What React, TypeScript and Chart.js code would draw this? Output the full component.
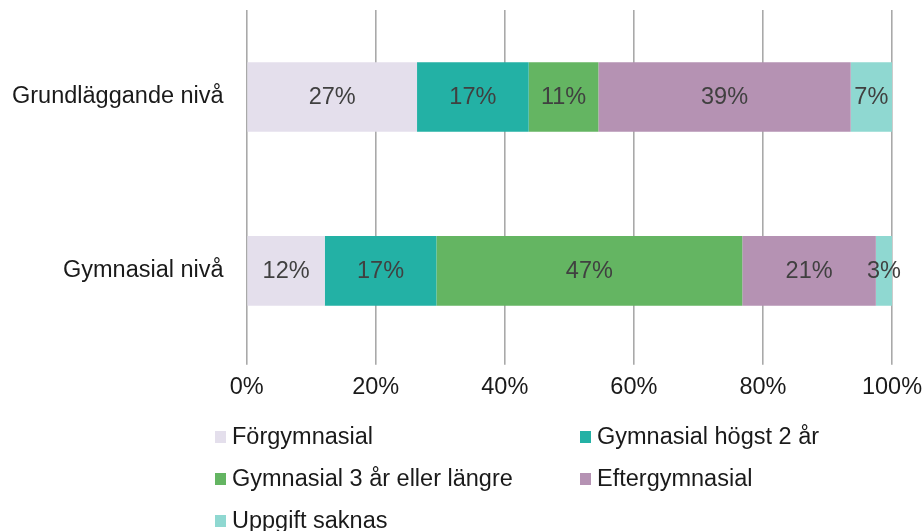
import React, { useEffect, useRef } from "react";
import { Chart, registerables } from "chart.js";

Chart.register(...registerables);

const categories = ["Grundläggande nivå", "Gymnasial nivå"];
const seriesNames = [
  "Förgymnasial",
  "Gymnasial högst 2 år",
  "Gymnasial 3 år eller längre",
  "Eftergymnasial",
  "Uppgift saknas",
];
const seriesColors = ["#e4dfec", "#23b1a5", "#64b562", "#b592b3", "#8fd8d1"];

const forgymnasial = [26.4, 12.1];
const gymnasialHogst2 = [17.3, 17.3];
const gymnasial3 = [10.8, 47.4];
const eftergymnasial = [39.1, 20.7];
const uppgiftSaknas = [6.4, 2.5];

const forgymnasialLabels = ["27%", "12%"];
const gymnasialHogst2Labels = ["17%", "17%"];
const gymnasial3Labels = ["11%", "47%"];
const eftergymnasialLabels = ["39%", "21%"];
const uppgiftSaknasLabels = ["7%", "3%"];

const xTicks = [0, 20, 40, 60, 80, 100];

const seriesValues = [forgymnasial, gymnasialHogst2, gymnasial3, eftergymnasial, uppgiftSaknas];
const seriesLabels = [
  forgymnasialLabels,
  gymnasialHogst2Labels,
  gymnasial3Labels,
  eftergymnasialLabels,
  uppgiftSaknasLabels,
];

const FONT = "'Liberation Sans', Arial, Helvetica, sans-serif";

const dataLabelPlugin = {
  id: "dataLabels",
  afterDatasetsDraw(chart: any) {
    const ctx = chart.ctx;
    ctx.save();
    ctx.font = `23.5px ${FONT}`;
    ctx.fillStyle = "#404040";
    ctx.textAlign = "center";
    ctx.textBaseline = "middle";
    chart.data.datasets.forEach((ds: any, di: number) => {
      const meta = chart.getDatasetMeta(di);
      meta.data.forEach((bar: any, i: number) => {
        const x = (bar.x + bar.base) / 2;
        ctx.fillText(seriesLabels[di][i], x, bar.y + 1);
      });
    });
    ctx.restore();
  },
};

const zeroPadding = (scale: any) => {
  scale.paddingTop = 0;
  scale.paddingBottom = 0;
  scale.paddingLeft = 0;
  scale.paddingRight = 0;
};

export default function App() {
  const canvasRef = useRef<HTMLCanvasElement | null>(null);

  useEffect(() => {
    if (!canvasRef.current) return;
    const chart = new Chart(canvasRef.current, {
      type: "bar",
      data: {
        labels: categories,
        datasets: seriesNames.map((name, i) => ({
          label: name,
          data: seriesValues[i],
          backgroundColor: seriesColors[i],
          borderWidth: 0,
          barPercentage: 0.4,
          categoryPercentage: 1,
        })),
      },
      options: {
        indexAxis: "y",
        animation: false,
        responsive: true,
        maintainAspectRatio: false,
        layout: { padding: { top: 10, right: 31, bottom: 120, left: -11 } },
        plugins: {
          legend: { display: false },
          tooltip: { enabled: false },
        },
        scales: {
          x: {
            stacked: true,
            min: 0,
            max: 100,
            afterBuildTicks: (scale: any) => {
              scale.ticks = xTicks.map((v) => ({ value: v }));
            },
            afterFit: zeroPadding,
            ticks: {
              callback: (v: any) => `${v}%`,
              color: "#1a1a1a",
              font: { family: FONT, size: 23.5 },
              padding: 9,
              maxRotation: 0,
            },
            grid: {
              color: "#a9a9a9",
              lineWidth: 1.6,
              drawTicks: true,
              tickLength: 7,
            },
            border: { display: false },
          },
          y: {
            stacked: true,
            afterFit: zeroPadding,
            ticks: {
              color: "#1a1a1a",
              font: { family: FONT, size: 23.5 },
              padding: 23,
            },
            grid: { display: false, drawTicks: false },
            border: { display: false },
          },
        },
      },
      plugins: [dataLabelPlugin],
    });
    return () => chart.destroy();
  }, []);

  const legendPos = [
    { left: 215, top: 437 },
    { left: 580, top: 437 },
    { left: 215, top: 479 },
    { left: 580, top: 479 },
    { left: 215, top: 521 },
  ];

  return (
    <div
      style={{
        position: "absolute",
        left: 0,
        top: 0,
        width: 923,
        height: 531,
        background: "#ffffff",
        overflow: "hidden",
      }}
    >
      <canvas ref={canvasRef} />
      {seriesNames.map((name, i) => (
        <div
          key={name}
          style={{
            position: "absolute",
            left: legendPos[i].left,
            top: legendPos[i].top - 15,
            height: 30,
            display: "flex",
            alignItems: "center",
            fontFamily: FONT,
            fontSize: 23.5,
            lineHeight: 1,
            color: "#1a1a1a",
            whiteSpace: "nowrap",
          }}
        >
          <span
            style={{
              display: "inline-block",
              width: 11,
              height: 12,
              background: seriesColors[i],
              marginRight: 6,
            }}
          />
          <span>{name}</span>
        </div>
      ))}
    </div>
  );
}
